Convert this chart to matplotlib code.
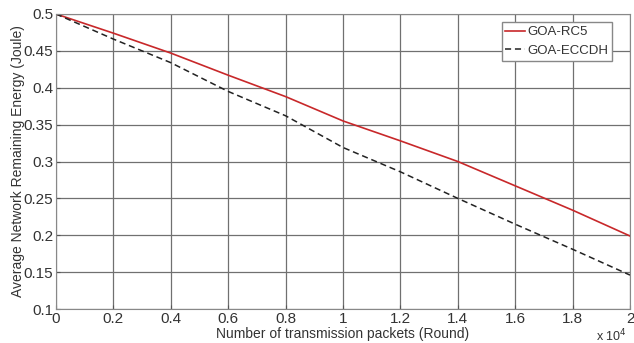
import matplotlib.pyplot as plt
import numpy as np

plt.rcParams['font.family'] = ['Liberation Sans', 'DejaVu Sans']

# rounds in units of 10^4
rounds = [0, 0.2, 0.4, 0.6, 0.8, 1.0, 1.2, 1.4, 1.6, 1.8, 2.0]
rc5 = [0.5, 0.474, 0.447, 0.417, 0.388, 0.355, 0.328, 0.300, 0.267, 0.234, 0.199]
eccdh = [0.5, 0.466, 0.434, 0.395, 0.362, 0.319, 0.286, 0.250, 0.215, 0.181, 0.146]

xticks = [0, 0.2, 0.4, 0.6, 0.8, 1, 1.2, 1.4, 1.6, 1.8, 2]
xticklabels = ['0', '0.2', '0.4', '0.6', '0.8', '1', '1.2', '1.4', '1.6', '1.8', '2']
yticks = [0.1, 0.15, 0.2, 0.25, 0.3, 0.35, 0.4, 0.45, 0.5]
yticklabels = ['0.1', '0.15', '0.2', '0.25', '0.3', '0.35', '0.4', '0.45', '0.5']

fig = plt.figure(figsize=(6.34, 3.43), dpi=100)
ax = fig.add_axes([0.0883, 0.0991, 0.9054, 0.8601])

ax.plot(rounds, rc5, color='#c8282a', lw=1.2, label='GOA-RC5')
ax.plot(rounds, eccdh, color='#222222', lw=1.1, ls=(0, (4, 2.5)), label='GOA-ECCDH')

ax.set_xlim(0, 2)
ax.set_ylim(0.1, 0.5)
ax.set_xticks(xticks)
ax.set_xticklabels(xticklabels)
ax.set_yticks(yticks)
ax.set_yticklabels(yticklabels)
ax.tick_params(direction='in', length=3, labelsize=11, colors='#555555',
               labelcolor='#333333', pad=2)
ax.grid(True, color='#707070', lw=0.9)
for s in ax.spines.values():
    s.set_color('#888888')

ax.set_xlabel('Number of transmission packets (Round)', fontsize=10, color='#333333', labelpad=1)
ax.set_ylabel('Average Network Remaining Energy (Joule)', fontsize=10, color='#333333', labelpad=-1)
fig.text(0.94, 0.005, r'x 10$^4$', fontsize=9, color='#333333')

leg = ax.legend(loc='upper right', bbox_to_anchor=(0.969, 0.972), fontsize=9.5,
                fancybox=False, framealpha=1, edgecolor='#888888',
                handlelength=1.5, handletextpad=0.15, borderpad=0.3,
                labelspacing=0.45, borderaxespad=0)
for t in leg.get_texts():
    t.set_color('#333333')

fig.savefig('out.png', dpi=100)
